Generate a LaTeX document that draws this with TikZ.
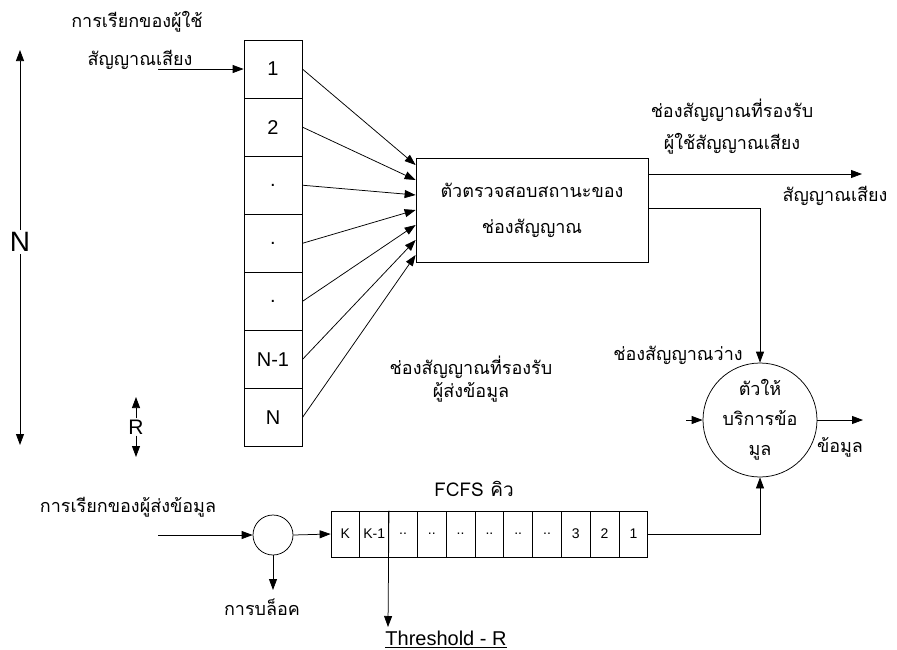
\documentclass[tikz,border=0pt]{standalone}
\usepackage{fontspec}
\setmainfont{Liberation Sans}
\newfontfamily\thaifont[Script=Thai]{Loma}
\usetikzlibrary{arrows.meta, positioning}

\tikzset{
  cellbox/.style={draw, minimum width=58pt, minimum height=58.1pt, inner sep=0pt, font=\fontsize{20}{24}\selectfont},
  qcell/.style={draw, minimum width=28.8pt, minimum height=46pt, inner sep=0pt, font=\fontsize{14}{16}\selectfont},
  thtxt/.style={font=\thaifont\fontsize{18}{22}\selectfont, inner sep=0pt},
}

\begin{document}
\begin{tikzpicture}[x=1pt, y=-1pt, line width=0.75pt, >={Triangle[length=11pt,width=8pt]}]
    \useasboundingbox (0,0) rectangle (897,649);

    % N and R spans on the left
    \node[font=\fontsize{28}{30}\selectfont, inner sep=2pt] (nlab) at (20,242) {N};
    \coordinate (ntop) at (20,50);
    \coordinate (nbot) at (20,445);
    \draw[->] (nlab.north) -- (ntop);
    \draw[->] (nlab.south) -- (nbot);
    \node[font=\fontsize{21}{24}\selectfont, inner sep=1pt] (rlab) at (136,427) {R};
    \coordinate (rtop) at (136,397);
    \coordinate (rbot) at (136,457);
    \draw[->] (rlab.north) -- (rtop);
    \draw[->] (rlab.south) -- (rbot);

    % voice channels
    \node[thtxt] (vcall1) at (137,22) {การเรียกของผู้ใช้};
    \node[thtxt] (vcall2) at (140,60) {สัญญาณเสียง};
    \coordinate (vin) at (158,69);
    \node[cellbox] (c1) at (273,69.0) {1};
    \node[cellbox] (c2) at (273,127.1) {2};
    \node[cellbox] (c3) at (273,185.2) {.};
    \node[cellbox] (c4) at (273,243.3) {.};
    \node[cellbox] (c5) at (273,301.4) {.};
    \node[cellbox] (c6) at (273,359.5) {N-1};
    \node[cellbox] (c7) at (273,417.6) {N};
    \draw[->] (vin) -- (c1.west);

    % channel state checker
    \node[draw, minimum width=232pt, minimum height=104pt, align=center,
          font=\thaifont\fontsize{18}{36}\selectfont] (chk) at (532,210)
          {ตัวตรวจสอบสถานะของ\\ช่องสัญญาณ};
    \draw[->] (c1.east) -- ([yshift=45pt]chk.west);
    \draw[->] (c2.east) -- ([yshift=30pt]chk.west);
    \draw[->] (c3.east) -- ([yshift=15pt]chk.west);
    \draw[->] (c4.east) -- (chk.west);
    \draw[->] (c5.east) -- ([yshift=-15pt]chk.west);
    \draw[->] (c6.east) -- ([yshift=-30pt]chk.west);
    \draw[->] (c7.east) -- ([yshift=-45pt]chk.west);

    \node[thtxt] (vok1) at (732,110) {ช่องสัญญาณที่รองรับ};
    \node[thtxt] (vok2) at (732,144) {ผู้ใช้สัญญาณเสียง};
    \coordinate (vout) at (862,174);
    \draw[->] ([yshift=36pt]chk.east) -- (vout);
    \node[thtxt] (vout lab) at (835,196) {สัญญาณเสียง};

    \node[thtxt] (dok1) at (471,367) {ช่องสัญญาณที่รองรับ};
    \node[thtxt] (dok2) at (471,392) {ผู้ส่งข้อมูล};

    % data server
    \node[draw, circle, minimum size=114pt, inner sep=0pt, align=center,
          font=\thaifont\fontsize{18}{30}\selectfont] (srv) at (760,420)
          {ตัวให้\\บริการข้อ\\มูล};
    \draw[->] ([yshift=2pt]chk.east) -| (srv.north);
    \node[thtxt] (free) at (678,355) {ช่องสัญญาณว่าง};
    \coordinate (sin) at (686,420);
    \draw[->] (sin) -- (srv.west);
    \coordinate (sout) at (863,420);
    \draw[->] (srv.east) -- (sout);
    \node[thtxt] (dout lab) at (840,447) {ข้อมูล};

    % data calls and FCFS queue
    \node[thtxt] (dcall) at (128,507) {การเรียกของผู้ส่งข้อมูล};
    \coordinate (din) at (158,535);
    \node[draw, circle, minimum size=40pt, inner sep=0pt] (blk) at (273,535) {};
    \draw[->] (din) -- (blk.west);
    \coordinate (bout) at (273,590);
    \draw[->] (blk.south) -- (bout);
    \node[thtxt] (blk lab) at (262,607) {การบล็อค};

    \node[qcell] (qk) at (345.4,534) {K};
    \node[qcell] (qk1) at (374.2,534) {K-1};
    \node[qcell] (qd1) at (403.0,534) {..};
    \node[qcell] (qd2) at (431.8,534) {..};
    \node[qcell] (qd3) at (460.6,534) {..};
    \node[qcell] (qd4) at (489.4,534) {..};
    \node[qcell] (qd5) at (518.2,534) {..};
    \node[qcell] (qd6) at (547.0,534) {..};
    \node[qcell] (q3) at (575.8,534) {3};
    \node[qcell] (q2) at (604.6,534) {2};
    \node[qcell] (q1) at (633.4,534) {1};
    \draw[->] (blk.east) -- (qk.west);
    \draw[->] (q1.east) -| (srv.south);
    \node[font=\thaifont\fontsize{19}{22}\selectfont, inner sep=0pt] (fcfs) at (474,489) {FCFS คิว};

    \coordinate (thr) at (388,627);
    \draw[->] (qk1.north east) -- (thr);
    \node[font=\fontsize{20}{22}\selectfont, inner sep=0pt, anchor=south] (thr lab) at (446,648) {\underline{Threshold - R}};
\end{tikzpicture}
\end{document}
